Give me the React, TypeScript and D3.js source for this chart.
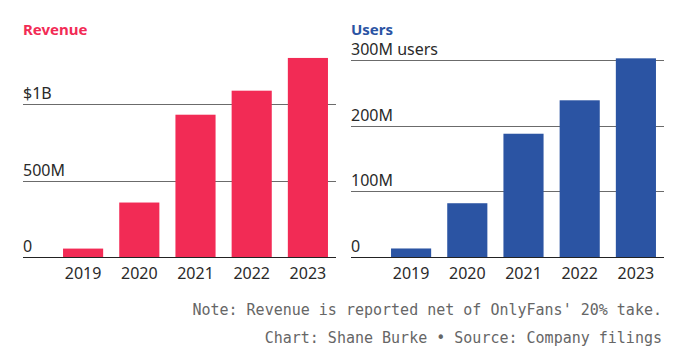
import React from "react";
import * as d3 from "d3";

const years = ["2019", "2020", "2021", "2022", "2023"];
const revenue = [55, 356, 930, 1087, 1301]; // $M
const users = [13, 82, 188, 239, 303]; // millions
const revTicks = [0, 500, 1000];
const revTickLabels = ["0", "500M", "$1B"];
const userTicks = [0, 100, 200, 300];
const userTickLabels = ["0", "100M", "200M", "300M users"];

const W = 698;
const H = 360;
const FONT = "'Noto Sans', sans-serif";
const MONO = "'DejaVu Sans Mono', monospace";

type PanelProps = {
  title: string;
  color: string;
  values: number[];
  ticks: number[];
  tickLabels: string[];
  yMax: number;
  gridX0: number;
  gridX1: number;
  bandX0: number;
  yTopPx: number;
};

function Panel(p: PanelProps) {
  const y = d3.scaleLinear().domain([0, p.yMax]).range([257, p.yTopPx]);
  const x = d3
    .scaleBand<string>()
    .domain(years)
    .range([p.bandX0, p.gridX1])
    .paddingInner(0.286)
    .paddingOuter(0.143);
  return (
    <g>
      <text x={p.gridX0} y={35} fill={p.color} fontFamily={FONT} fontWeight={700} fontSize={15}>
        {p.title}
      </text>
      {p.ticks.map((t, i) =>
        t === 0 ? null : (
          <line key={"g" + i} x1={p.gridX0} x2={p.gridX1} y1={Math.round(y(t)) + 0.5} y2={Math.round(y(t)) + 0.5} stroke="#6b6b6b" strokeWidth={1} />
        )
      )}
      {p.ticks.map((t, i) => (
        <text key={"t" + i} x={p.gridX0} y={y(t) - 5} fill="#2a2a2a" fontFamily={FONT} fontSize={16}>
          {p.tickLabels[i]}
        </text>
      ))}
      {p.values.map((v, i) => (
        <rect key={"b" + i} x={x(years[i])} y={y(v)} width={x.bandwidth()} height={y(0) - y(v)} fill={p.color} />
      ))}
      <line x1={p.gridX0} x2={p.gridX1} y1={257.5} y2={257.5} stroke="#222" strokeWidth={1.2} />
      {years.map((yr) => (
        <text key={yr} x={(x(yr) as number) + x.bandwidth() / 2} y={278.5} textAnchor="middle" fill="#2a2a2a" fontFamily={FONT} fontSize={16}>
          {yr}
        </text>
      ))}
    </g>
  );
}

export default function App() {
  return (
    <svg width={W} height={H} style={{ position: "absolute", left: 0, top: 0, background: "#fff" }}>
      <Panel
        title="Revenue"
        color="#f22b55"
        values={revenue}
        ticks={revTicks}
        tickLabels={revTickLabels}
        yMax={1000}
        gridX0={23}
        gridX1={336}
        bandX0={55}
        yTopPx={104}
      />
      <Panel
        title="Users"
        color="#2b54a3"
        values={users}
        ticks={userTicks}
        tickLabels={userTickLabels}
        yMax={300}
        gridX0={351}
        gridX1={664}
        bandX0={383}
        yTopPx={60.3}
      />
      <text x={662} y={315} textAnchor="end" fill="#666" fontFamily={MONO} fontSize={15}>
        Note: Revenue is reported net of OnlyFans' 20% take.
      </text>
      <text x={662} y={343} textAnchor="end" fill="#666" fontFamily={MONO} fontSize={15}>
        Chart: Shane Burke • Source: Company filings
      </text>
    </svg>
  );
}
